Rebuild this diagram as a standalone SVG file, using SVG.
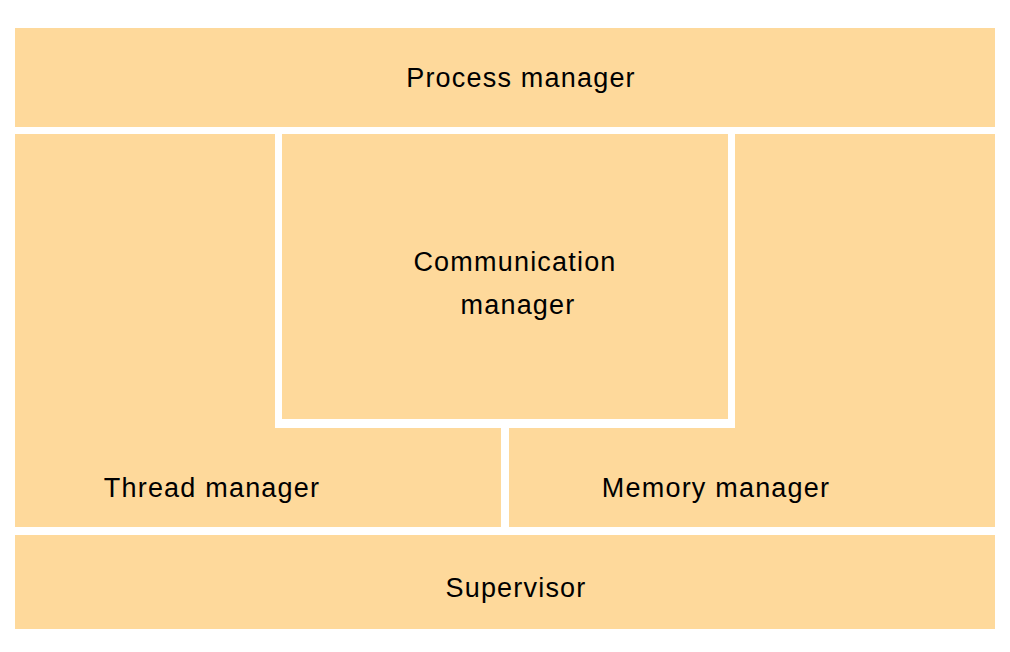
<svg xmlns="http://www.w3.org/2000/svg" width="1010" height="652" viewBox="0 0 1010 652">
<style>
.blk{fill:#FED99B;}
.lbl{font-family:"Liberation Sans",Arial,sans-serif;font-size:27px;fill:#000;text-anchor:middle;letter-spacing:1.2px;}
</style>
<rect width="1010" height="652" fill="#ffffff"/>
<g id="process-manager">
<rect class="blk" x="15" y="28" width="980" height="99"/>
<text class="lbl" x="521" y="87">Process manager</text>
</g>
<g id="thread-manager">
<path class="blk" d="M15,134 H275 V428 H501 V527 H15 Z"/>
<text class="lbl" x="212" y="497">Thread manager</text>
</g>
<g id="communication-manager">
<rect class="blk" x="282" y="134" width="446" height="285"/>
<text class="lbl" x="515" y="271">Communication</text>
<text class="lbl" x="518" y="314">manager</text>
</g>
<g id="memory-manager">
<path class="blk" d="M735,134 H995 V527 H509 V428 H735 Z"/>
<text class="lbl" x="716" y="497">Memory manager</text>
</g>
<g id="supervisor">
<rect class="blk" x="15" y="535" width="980" height="94"/>
<text class="lbl" x="516" y="597">Supervisor</text>
</g>
<g id="connectors"></g>
</svg>
